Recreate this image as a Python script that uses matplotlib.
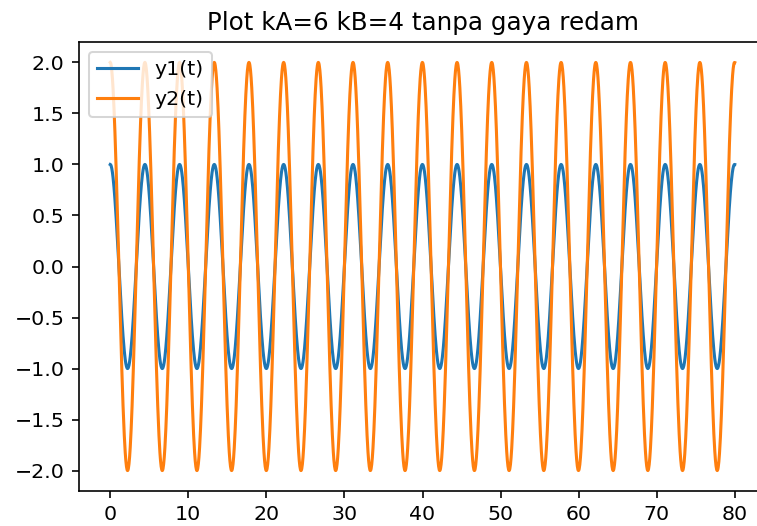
import numpy as np
import matplotlib
matplotlib.use("Agg")
import matplotlib.pyplot as plt

# parameter sistem (dari judul) dan kondisi awal
kA = 6
kB = 4
m1 = 1.0
m2 = 1.0
y0 = [1.0, 2.0]      # y1(0), y2(0)
v0 = [0.0, 0.0]      # kecepatan awal
t_akhir = 80
n_titik = 2000

series_labels = ["y1(t)", "y2(t)"]
series_colors = ["#1f77b4", "#ff7f0e"]
yticks = [-2.0, -1.5, -1.0, -0.5, 0.0, 0.5, 1.0, 1.5, 2.0]
xticks = [0, 10, 20, 30, 40, 50, 60, 70, 80]


def turunan(s):
    y1, y2, v1, v2 = s
    a1 = (-kA * y1 - kB * (y1 - y2)) / m1
    a2 = (-kB * (y2 - y1)) / m2
    return np.array([v1, v2, a1, a2])


# integrasi RK4 tanpa gaya redam
t = np.linspace(0, t_akhir, n_titik)
dt = t[1] - t[0]
s = np.array(y0 + v0, dtype=float)
hasil = [s.copy()]
for _ in range(n_titik - 1):
    k1 = turunan(s)
    k2 = turunan(s + dt / 2 * k1)
    k3 = turunan(s + dt / 2 * k2)
    k4 = turunan(s + dt * k3)
    s = s + dt / 6 * (k1 + 2 * k2 + 2 * k3 + k4)
    hasil.append(s.copy())
hasil = np.array(hasil)

dpi = 147.6
fig = plt.figure(figsize=(757 / dpi, 526 / dpi), dpi=dpi)
ax = fig.add_axes([79 / 757, 1 - 491 / 526, (766 - 79) / 757, (491 - 42) / 526])

for i in range(2):
    ax.plot(t, hasil[:, i], color=series_colors[i], label=series_labels[i])

ax.set_xlim(-4, 84)
ax.set_ylim(-2.2, 2.2)
ax.set_xticks(xticks)
ax.set_yticks(yticks)
ax.set_title("Plot kA=6 kB=4 tanpa gaya redam")
ax.legend(loc="upper left")

fig.savefig("out.png", dpi=dpi)
